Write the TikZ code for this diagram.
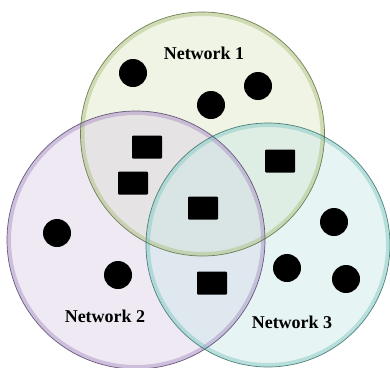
\documentclass[tikz,border=0pt]{standalone}
\usepackage{fontspec}
\setmainfont{Liberation Serif}
\usepackage{xcolor}
\usetikzlibrary{positioning}

\definecolor{netgreen}{HTML}{DDE7C5}
\definecolor{netpurple}{HTML}{DCCFE6}
\definecolor{netteal}{HTML}{CBE8E8}
\definecolor{rimgreen}{HTML}{A9BD78}
\definecolor{rimpurple}{HTML}{A48CC0}
\definecolor{rimteal}{HTML}{7CC6BE}
\definecolor{linegreen}{HTML}{55663A}
\definecolor{linepurple}{HTML}{4C3D63}
\definecolor{lineteal}{HTML}{2F6862}

\tikzset{
  netcircle/.style={circle, inner sep=0pt, fill opacity=0.45},
  host/.style={circle, fill=black, inner sep=0pt, minimum size=28pt},
  router/.style={rectangle, fill=black, inner sep=0pt, minimum width=30pt,
    minimum height=23pt, rounded corners=1pt},
  netlabel/.style={font=\fontsize{18}{20}\selectfont\bfseries}
}

\begin{document}
\begin{tikzpicture}[x=1pt,y=-1pt]
\useasboundingbox[fill=white] (0,0) rectangle (390,367);
% circles
\node[netcircle, fill=netgreen, minimum size=244pt] (net1) at (202.5,134) {};
\node[netcircle, fill=netpurple, minimum size=258pt] (net2) at (136,240) {};
\node[netcircle, fill=netteal, minimum size=244pt] (net3) at (268,245) {};
% rims
\draw[rimgreen, line width=4pt, opacity=0.45] (net1.center) circle (120);
\draw[rimpurple, line width=4pt, opacity=0.45] (net2.center) circle (127);
\draw[rimteal, line width=4pt, opacity=0.45] (net3.center) circle (120);
\draw[linegreen, line width=0.7pt, opacity=0.8] (net1.center) circle (122);
\draw[linepurple, line width=0.7pt, opacity=0.8] (net2.center) circle (129);
\draw[lineteal, line width=0.7pt, opacity=0.8] (net3.center) circle (122);
% labels
\node[netlabel] (lab1) at (204,53) {Network 1};
\node[netlabel] (lab2) at (105,316) {Network 2};
\node[netlabel] (lab3) at (292,322) {Network 3};
% hosts
\node[host] (h1) at (133,73) {};
\node[host] (h2) at (211,105) {};
\node[host] (h3) at (258,86) {};
\node[host] (h4) at (57,233) {};
\node[host] (h5) at (118,275) {};
\node[host] (h6) at (334,222) {};
\node[host] (h7) at (287,268) {};
\node[host] (h8) at (346,279) {};
% shared nodes
\node[router] (r1) at (147,147) {};
\node[router] (r2) at (133,183) {};
\node[router] (r3) at (280,161) {};
\node[router] (r4) at (203,208) {};
\node[router] (r5) at (212,283) {};
\end{tikzpicture}
\end{document}
